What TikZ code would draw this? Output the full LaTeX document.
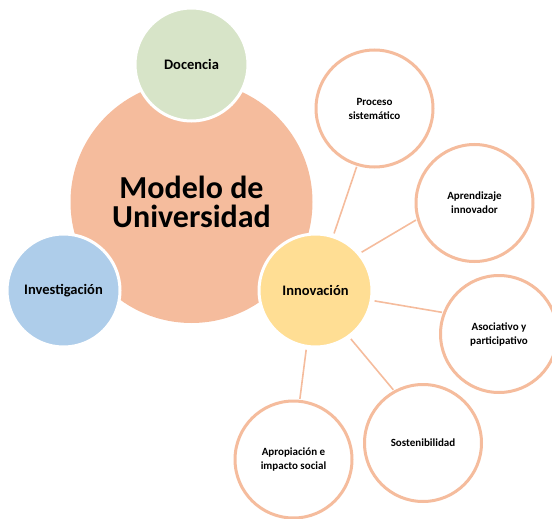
\documentclass[tikz,border=0pt]{standalone}
\usepackage{fontspec}
\usepackage{xcolor}
\usepackage{tikz}
\setmainfont{Carlito}
\definecolor{salmon}{HTML}{F5BC9D}
\definecolor{sage}{HTML}{D7E4C8}
\definecolor{sky}{HTML}{AECDEA}
\definecolor{butter}{HTML}{FFDE94}

\begin{document}
\begin{tikzpicture}[x=1pt,y=-1pt,
    hub/.style={circle, draw=white, line width=3pt, minimum size=113pt, inner sep=0pt,
        font=\fontsize{14.5}{17}\selectfont\bfseries},
    leaf/.style={circle, draw=salmon, fill=white, line width=3pt, minimum size=117pt, inner sep=0pt,
        align=center, font=\fontsize{11}{14}\selectfont\bfseries},
    link/.style={draw=salmon, line width=1.6pt, shorten <=2pt, shorten >=1pt}]
    \useasboundingbox (0,0) rectangle (552,519);
    \node[circle, fill=salmon, minimum size=242pt, inner sep=0pt, align=center,
        font=\fontsize{32}{29.5}\selectfont\bfseries] (modelo) at (191.5,202) {Modelo de\\Universidad};
    \node[hub, fill=sage] (docencia) at (191.5,64.5) {Docencia};
    \node[hub, fill=sky] (investigacion) at (63.5,290.5) {Investigación};
    \node[hub, fill=butter] (innovacion) at (315.5,290.5) {Innovación};
    \node[leaf] (proceso) at (374.5,108.5) {Proceso\\sistemático};
    \node[leaf] (aprendizaje) at (474.5,203) {Aprendizaje\\innovador};
    \node[leaf] (asociativo) at (499,334) {Asociativo y\\participativo};
    \node[leaf] (sostenibilidad) at (423,443) {Sostenibilidad};
    \node[leaf] (apropiacion) at (293.5,459.5) {Apropiación e\\impacto social};
    \draw[link] (innovacion.72) -- (proceso.253);
    \draw[link] (innovacion.40) -- (aprendizaje.196);
    \draw[link] (innovacion.-10) -- (asociativo.159);
    \draw[link] (innovacion.-54) -- (sostenibilidad.119);
    \draw[link] (innovacion.-99) -- (apropiacion.84);
\end{tikzpicture}
\end{document}
